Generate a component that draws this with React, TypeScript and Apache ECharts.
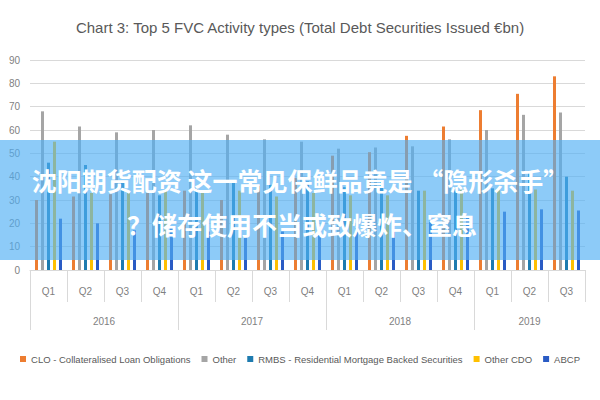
import React, { useEffect, useRef } from "react";
import * as echarts from "echarts";

const quarters = ["Q1", "Q2", "Q3", "Q4", "Q1", "Q2", "Q3", "Q4", "Q1", "Q2", "Q3", "Q4", "Q1", "Q2", "Q3"];
const years = ["2016", "2017", "2018", "2019"];
const yearSpans = [4, 4, 4, 3];

const clo = [30, 31.5, 32.5, 33, 34, 30, 36, 39.5, 49, 50.5, 57.5, 61.5, 68.5, 75.5, 83];
const other = [68, 61.5, 59, 60, 62, 58, 56, 55, 52, 52.5, 53, 56, 60, 66.5, 67.5];
const rmbs = [46, 45, 38, 32, 35, 37.5, 36.5, 38, 35.5, 38, 34, 35, 35, 42.5, 40];
const otherCdo = [55, 33, 33, 34.5, 34, 34, 31.5, 33, 32, 32, 34, 34.5, 34.5, 34.5, 34];
const abcp = [22, 20, 17, 18, 16.5, 15, 16.5, 16.5, 18, 17.5, 22.5, 22.5, 25, 26, 25.5];

const seriesNames = [
  "CLO - Collateralised Loan Obligations",
  "Other",
  "RMBS - Residential Mortgage Backed Securities",
  "Other CDO",
  "ABCP",
];
const seriesData = [clo, other, rmbs, otherCdo, abcp];
const colors = ["#ED7D31", "#A5A5A5", "#1E7BAF", "#FFC000", "#2A5BC4"];

const bannerLine1 = "沈阳期货配资 这一常见保鲜品竟是 “隐形杀手”";
const bannerLine2 = "？储存使用不当或致爆炸、窒息";

// half-quarter positions for the year axis (0..15 in steps of 0.5)
const yearAxisData: string[] = [];
const yearTickIdx: number[] = [];
{
  let pos = 0;
  for (let i = 0; i <= 30; i++) yearAxisData.push("");
  years.forEach((y, k) => {
    yearTickIdx.push(pos * 2);
    const center = pos + yearSpans[k] / 2;
    yearAxisData[Math.round(center * 2)] = y;
    pos += yearSpans[k];
  });
}

const FONT = "'Liberation Sans', sans-serif";

export default function App() {
  const ref = useRef<HTMLDivElement>(null);
  useEffect(() => {
    document.body.style.margin = "0";
    const chart = echarts.init(ref.current!, null, { renderer: "svg" });
    chart.setOption({
      animation: false,
      backgroundColor: "#ffffff",
      title: {
        text: "Chart 3: Top 5 FVC Activity types (Total Debt Securities Issued €bn)",
        left: "center",
        top: 15,
        textStyle: { fontFamily: FONT, fontSize: 15, fontWeight: "normal", color: "#595959" },
      },
      legend: {
        top: 349,
        left: "center",
        width: 600,
        itemWidth: 6,
        itemHeight: 6,
        itemGap: 11,
        icon: "rect",
        textStyle: { fontFamily: FONT, fontSize: 9.5, color: "#595959" },
        data: seriesNames,
      },
      grid: { left: 30, right: 15, top: 60, bottom: 130 },
      xAxis: [
        {
          type: "category",
          data: quarters,
          position: "bottom",
          axisLine: { show: true, lineStyle: { color: "#d9d9d9", width: 1 } },
          axisTick: { show: true, length: 32, interval: 0, lineStyle: { color: "#d9d9d9" } },
          axisLabel: { margin: 16, fontFamily: FONT, fontSize: 10, color: "#7f7f7f", interval: 0 },
        },
        {
          type: "category",
          data: yearAxisData,
          boundaryGap: false,
          position: "bottom",
          offset: 0,
          axisLine: { show: false },
          axisTick: {
            show: true,
            length: 60,
            interval: (idx: number) => yearTickIdx.indexOf(idx) >= 0,
            lineStyle: { color: "#d9d9d9" },
          },
          axisLabel: { margin: 46, fontFamily: FONT, fontSize: 10, color: "#7f7f7f", interval: 0 },
        },
      ],
      yAxis: {
        type: "value",
        min: 0,
        max: 90,
        interval: 10,
        axisLine: { show: false },
        axisTick: { show: false },
        axisLabel: { margin: 10, fontFamily: FONT, fontSize: 10, color: "#7f7f7f" },
        splitLine: { lineStyle: { color: "#d9d9d9", width: 1 } },
      },
      series: seriesNames.map((name, i) => ({
        name,
        type: "bar",
        xAxisIndex: 0,
        data: seriesData[i],
        barWidth: 3,
        barGap: "100%",
        itemStyle: { color: colors[i] },
      })),
      graphic: [
        {
          type: "rect",
          shape: { x: 0, y: 140, width: 600, height: 120 },
          style: { fill: "rgba(80,175,245,0.65)" },
          z: 100,
        },
        {
          type: "text",
          x: 300,
          y: 180,
          style: {
            text: bannerLine1,
            fill: "#ffffff",
            font: "bold 25px 'Noto Sans CJK SC', sans-serif",
            align: "center",
            verticalAlign: "middle",
          },
          z: 101,
        },
        {
          type: "text",
          x: 302,
          y: 224,
          style: {
            text: bannerLine2,
            fill: "#ffffff",
            font: "bold 25px 'Noto Sans CJK SC', sans-serif",
            align: "center",
            verticalAlign: "middle",
          },
          z: 101,
        },
      ],
    });
    return () => chart.dispose();
  }, []);
  return <div ref={ref} style={{ width: 600, height: 400, position: "absolute", left: 0, top: 0 }} />;
}
